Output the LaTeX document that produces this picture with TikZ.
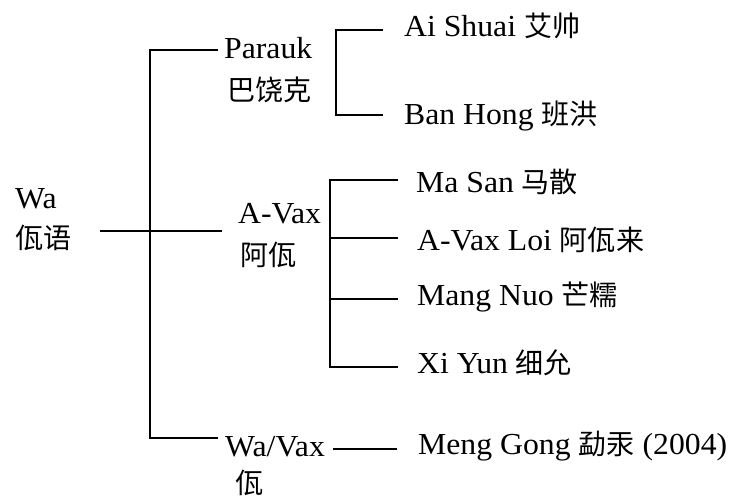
\documentclass[tikz,border=0pt]{standalone}
\usepackage{fontspec}
\setmainfont[FakeStretch=1.04]{Liberation Serif}
\newfontfamily\cjk[Scale=0.92]{Noto Sans CJK SC}
\begin{document}
\begin{tikzpicture}[x=1pt,y=-1pt,
  lbl/.style={anchor=base west,inner sep=0pt,font=\fontsize{30.5pt}{36pt}\selectfont},
  cjklbl/.style={anchor=west,inner sep=0pt,font=\fontsize{30.5pt}{36pt}\selectfont\cjk},
  ln/.style={line width=1.7pt}]
\useasboundingbox (0,0) rectangle (730,497);
% labels
\node[lbl] (wa) at (15,208) {Wa};
\node[cjklbl] (wacn) at (15,238) {佤语};
\node[lbl] (parauk) at (224,59) {Parauk};
\node[cjklbl] (paraukcn) at (227,90) {巴饶克};
\node[lbl] (avax) at (238,223) {A-Vax};
\node[cjklbl] (avaxcn) at (240,255) {阿佤};
\node[lbl] (wavax) at (225,456) {Wa/Vax};
\node[cjklbl] (wavaxcn) at (235,483) {佤};
\node[lbl] (aishuai) at (404,37) {Ai Shuai {\cjk 艾帅}};
\node[lbl] (banhong) at (404,125) {Ban Hong {\cjk 班洪}};
\node[lbl] (masan) at (416,193) {Ma San {\cjk 马散}};
\node[lbl] (avaxloi) at (417,250) {A-Vax Loi {\cjk 阿佤来}};
\node[lbl] (mangnuo) at (417,305) {Mang Nuo {\cjk 芒糯}};
\node[lbl] (xiyun) at (417,373) {Xi Yun {\cjk 细允}};
\node[lbl] (menggong) at (418,454) {Meng Gong {\cjk 勐汞} (2004)};
% junction coordinates
\coordinate (w0) at (100,231);
\coordinate (w1) at (222,231);
\coordinate (m0) at (150,50);
\coordinate (m0e) at (218,50);
\coordinate (m1) at (150,438);
\coordinate (m1e) at (218,438);
\coordinate (p0) at (336,30);
\coordinate (p0e) at (383,30);
\coordinate (p1) at (336,115);
\coordinate (p1e) at (383,115);
\coordinate (a0) at (330,180);
\coordinate (a0e) at (398,180);
\coordinate (a1) at (330,238);
\coordinate (a1e) at (398,238);
\coordinate (a2) at (330,299);
\coordinate (a2e) at (398,299);
\coordinate (a3) at (330,367);
\coordinate (a3e) at (398,367);
\coordinate (g0) at (333,449);
\coordinate (g0e) at (397,449);
% connectors
\draw[ln] (w0) -- (w1);
\draw[ln] (m0e) -- (m0) -- (m1) -- (m1e);
\draw[ln] (p0e) -- (p0) -- (p1) -- (p1e);
\draw[ln] (a0e) -- (a0) -- (a3) -- (a3e);
\draw[ln] (a1) -- (a1e);
\draw[ln] (a2) -- (a2e);
\draw[ln] (g0) -- (g0e);
\end{tikzpicture}
\end{document}
